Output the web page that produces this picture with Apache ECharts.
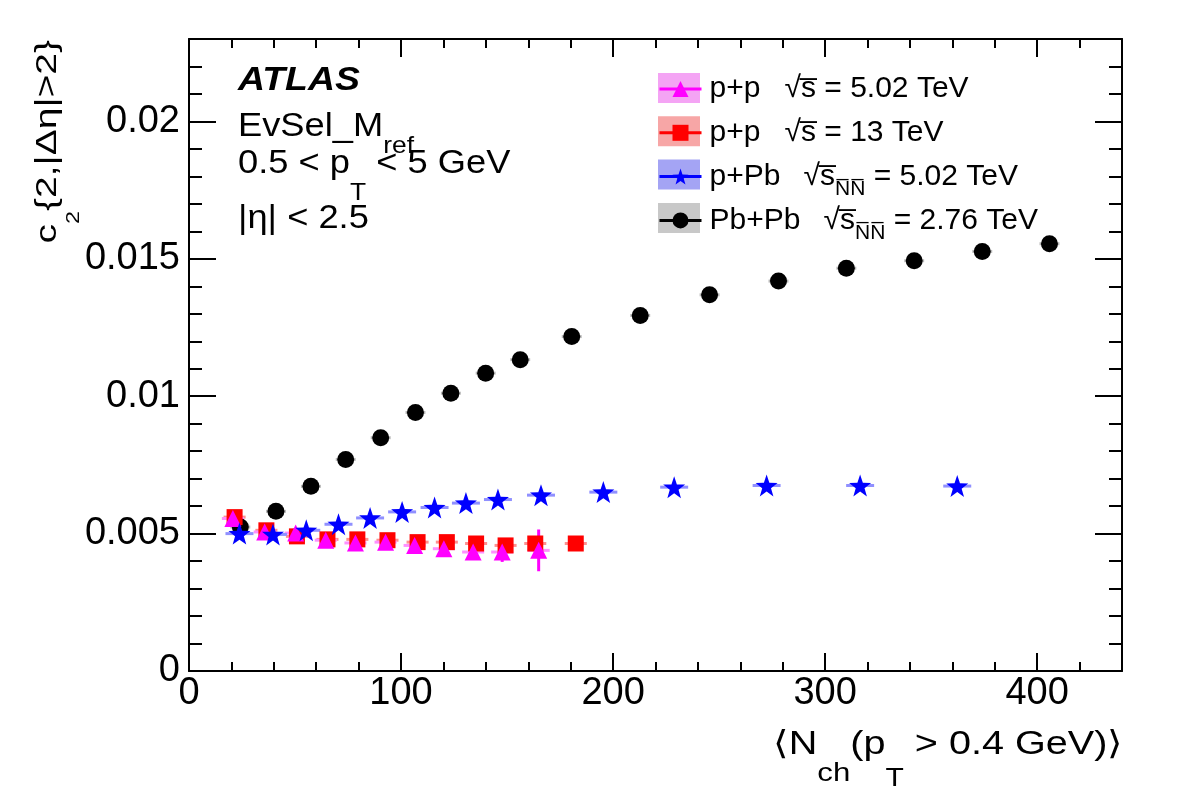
<!DOCTYPE html>
<html>
<head>
<meta charset="utf-8">
<title>ATLAS c2 vs Nch</title>
<script src="https://cdn.jsdelivr.net/npm/echarts@6.0.0/dist/echarts.min.js"></script>
<style>
  html, body { margin: 0; padding: 0; background: #fff; }
  #chart { width: 1182px; height: 800px; }
</style>
</head>
<body>
<div id="chart"></div>
<script>
const FONT = '"Liberation Sans", Arial, Helvetica, sans-serif';

// p+p, sqrt(s) = 5.02 TeV
const pp5X = [20.7, 35.7, 50.3, 64.5, 78.5, 92.7, 106.4, 120.2, 134.0, 147.7, 164.9];
const pp5Y = [0.00555, 0.00506, 0.00502, 0.00476, 0.00466, 0.00469, 0.00457, 0.00445, 0.00433, 0.00433, 0.00439];
const pp5YErr = [0.0001, 0.0001, 0.0001, 0.0001, 0.0001, 0.0001, 0.00012, 0.00015, 0.0002, 0.00036, 0.00076];

// p+p, sqrt(s) = 13 TeV
const pp13X = [21.5, 36.5, 50.9, 65.3, 79.4, 93.6, 107.8, 121.6, 135.4, 149.3, 163.3, 182.4];
const pp13Y = [0.00560, 0.00512, 0.00490, 0.00479, 0.00479, 0.00476, 0.00469, 0.00469, 0.00464, 0.00457, 0.00464, 0.00464];

// p+Pb, sqrt(sNN) = 5.02 TeV
const pPbX = [23.8, 39.6, 55.3, 70.5, 85.4, 100.5, 115.8, 130.6, 145.7, 166.0, 195.4, 228.8, 272.4, 316.5, 362.3];
const pPbY = [0.00500, 0.00497, 0.00512, 0.00534, 0.00557, 0.00579, 0.00595, 0.00611, 0.00624, 0.00640, 0.00651, 0.00669, 0.00675, 0.00675, 0.00673];

// Pb+Pb, sqrt(sNN) = 2.76 TeV
const PbPbX = [24.2, 41.0, 57.5, 73.9, 90.4, 106.8, 123.5, 139.9, 156.2, 180.5, 212.8, 245.5, 278.0, 310.0, 342.0, 374.1, 405.8];
const PbPbY = [0.00524, 0.00581, 0.00672, 0.00770, 0.00849, 0.00941, 0.01011, 0.01084, 0.01133, 0.01217, 0.01294, 0.01369, 0.01419, 0.01466, 0.01493, 0.01527, 0.01555];

// half width of the systematic boxes (in Nch)
const pp5XErr = 5.2;
const pp13XErr = 5.2;
const pPbXErr = 6.6;
const PbPbXErr = 4.7;

// axis ranges
const xMax = 440, xStep = 100;
const yMax = 0.023, yStep = 0.005;

const NAME_PP5 = 'p+p 5.02 TeV';
const NAME_PP13 = 'p+p 13 TeV';
const NAME_PPB = 'p+Pb 5.02 TeV';
const NAME_PBPB = 'Pb+Pb 2.76 TeV';

function zip(xs, ys, es) {
    return xs.map((x, i) => es ? [x, ys[i], es[i]] : [x, ys[i]]);
}

const starPath = 'path://M0,-10L2.35,-3.24L9.51,-3.09L3.8,1.24L5.88,8.09L0,4L-5.88,8.09L-3.8,1.24L-9.51,-3.09L-2.35,-3.24Z';

function markers(name, data, symbol, size, color) {
    return {
        type: 'line',
        name: name,
        data: data,
        symbol: symbol,
        symbolSize: size,
        showSymbol: true,
        color: color,
        itemStyle: { color: color, borderWidth: 0 },
        lineStyle: { opacity: 0 },
        emphasis: { disabled: true },
        z: 4
    };
}

function errorBars(name, data, xe, boxColor, barColor) {
    return {
        type: 'custom',
        name: name,
        data: data,
        silent: true,
        z: 3,
        renderItem: function (params, api) {
            let x = api.value(0), y = api.value(1), ye = api.value(2);
            let a = api.coord([x - xe, y]), b = api.coord([x + xe, y]);
            let children = [{
                type: 'line',
                shape: { x1: a[0], y1: a[1], x2: b[0], y2: b[1] },
                style: { stroke: boxColor, lineWidth: 3 }
            }];
            if (ye) {
                let c = api.coord([x, y - ye]), d = api.coord([x, y + ye]);
                children.push({
                    type: 'line',
                    shape: { x1: c[0], y1: c[1], x2: d[0], y2: d[1] },
                    style: { stroke: barColor, lineWidth: 3 }
                });
            }
            return { type: 'group', children: children };
        }
    };
}

const tickLine = { color: '#000', width: 2 };

function xAxisDef(pos, labels) {
    return {
        type: 'value', position: pos, min: 0, max: xMax, interval: xStep,
        axisLine: { onZero: false, lineStyle: tickLine },
        axisTick: { inside: true, length: 18, lineStyle: tickLine },
        minorTick: { show: true, splitNumber: 5, length: 9, lineStyle: tickLine },
        splitLine: { show: false },
        axisLabel: {
            show: labels, fontSize: 38, color: '#000', fontFamily: FONT, margin: 4,
            showMaxLabel: false
        }
    };
}

function yAxisDef(pos, labels) {
    return {
        type: 'value', position: pos, min: 0, max: yMax, interval: yStep,
        axisLine: { onZero: false, lineStyle: tickLine },
        axisTick: { inside: true, length: 27, lineStyle: tickLine },
        minorTick: { show: true, splitNumber: 5, length: 13, lineStyle: tickLine },
        splitLine: { show: false },
        axisLabel: {
            show: labels, fontSize: 38, color: '#000', fontFamily: FONT, margin: 9,
            showMaxLabel: false,
            formatter: v => v === 0 ? '0' : String(v)
        }
    };
}

// legend text, with sqrt(s) and subscripts; every row ends the same way so rows get equal height
const legendText = {};
legendText[NAME_PP5] = '{a1|p+p}{m|√s\u0305 = 5.02 TeV}{n| }';
legendText[NAME_PP13] = '{a1|p+p}{m|√s\u0305 = 13 TeV}{n| }';
legendText[NAME_PPB] = '{a3|p+Pb}{m|√s\u0305}{n|N\u0305N\u0305}{m| = 5.02 TeV}';
legendText[NAME_PBPB] = '{a4|Pb+Pb}{m|√s\u0305}{n|N\u0305N\u0305}{m| = 2.76 TeV}';

const legRich = {
    a1: { fontSize: 30, lineHeight: 30, width: 75, padding: [0, 0, 0, 3], color: '#000', fontFamily: FONT },
    a3: { fontSize: 30, lineHeight: 30, width: 94, padding: [0, 0, 0, 3], color: '#000', fontFamily: FONT },
    a4: { fontSize: 30, lineHeight: 30, width: 114, padding: [0, 0, 0, 3], color: '#000', fontFamily: FONT },
    m: { fontSize: 30, lineHeight: 30, color: '#000', fontFamily: FONT },
    n: { fontSize: 21, lineHeight: 2, height: 2, padding: [27, 0, 1, 0], color: '#000', fontFamily: FONT }
};

const legendNames = [NAME_PP5, NAME_PP13, NAME_PPB, NAME_PBPB];
const boxColors = ['#f4a4f4', '#f7a6a6', '#a4a4f4', '#c8c8c8'];

// ROOT style text blocks: subscripts dropped by fixed offsets inside an 80px line
function subStyle(size, drop) {
    let top = 35 + drop;
    return { fontSize: size, lineHeight: 10, height: 10, padding: [top, 0, 70 - top, 0], fill: '#000', fontFamily: FONT };
}

function label(x, y, text, size, rich, extra) {
    extra = extra || {};
    let el = {
        type: 'text', x: x, y: y, z: 10,
        style: Object.assign({
            text: text, fontSize: size, fontFamily: FONT, fill: '#000',
            lineHeight: 80, align: 'left', verticalAlign: 'middle', rich: rich || {}
        }, extra.style)
    };
    if (extra.rotation) el.rotation = extra.rotation;
    if (extra.scaleX) el.scaleX = extra.scaleX;
    return el;
}

const chart = echarts.init(document.getElementById('chart'), null, { renderer: 'canvas' });

const option = {
    animation: false,
    backgroundColor: '#fff',
    textStyle: { fontFamily: FONT, color: '#000' },
    grid: { left: 189, right: 60, top: 39, bottom: 129 },
    xAxis: [xAxisDef('bottom', true), xAxisDef('top', false)],
    yAxis: [yAxisDef('left', true), yAxisDef('right', false)],
    legend: [
        {
            orient: 'vertical', left: 658, top: 73, padding: 0, itemGap: 13.3,
            itemWidth: 42, itemHeight: 30, selectedMode: false, z: 4,
            data: legendNames.map((n, i) => ({ name: n, icon: 'rect', itemStyle: { color: boxColors[i], borderWidth: 0 } })),
            formatter: () => '',
            textStyle: { fontSize: 10 }
        },
        {
            orient: 'vertical', left: 658, top: 74, padding: 0, itemGap: 5.3,
            itemWidth: 42, itemHeight: 20, z: 5,
            data: legendNames,
            lineStyle: { width: 3, opacity: 1 },
            formatter: n => legendText[n],
            textStyle: { fontSize: 30, lineHeight: 30, color: '#000', fontFamily: FONT, rich: legRich }
        }
    ],
    graphic: [
        label(238, 80.8, 'ATLAS', 34, null, { scaleX: 1.1, style: { fontWeight: 'bold', fontStyle: 'italic' } }),
        label(238, 126.8, 'EvSel_M{s|ref}', 33, { s: subStyle(24, 19.9) }, { scaleX: 1.1 }),
        label(238, 163.5, '0.5 < p{s|T} < 5 GeV', 33, { s: subStyle(24, 29.9) }, { scaleX: 1.1 }),
        label(238, 218.5, '|η| < 2.5', 33, null, { scaleX: 1.1 }),
        label(1123, 745.1, '⟨N{c|ch}(p{t|T} > 0.4 GeV)⟩', 33,
            { c: subStyle(26, 29.1), t: subStyle(25, 34.5) }, { scaleX: 1.2, style: { align: 'right' } }),
        label(47.5, 40, 'c{s|2}{2,|Δη|>2}', 30, { s: subStyle(18, 26.2) },
            { rotation: Math.PI / 2, scaleX: 1.3, style: { align: 'right' } })
    ],
    series: [
        errorBars('PbPb sys', zip(PbPbX, PbPbY), PbPbXErr, '#b8b8b8', '#000'),
        errorBars('pp13 sys', zip(pp13X, pp13Y), pp13XErr, '#ff9090', '#ff0000'),
        errorBars('pp5 sys', zip(pp5X, pp5Y, pp5YErr), pp5XErr, '#ff90ff', '#ff00ff'),
        errorBars('pPb sys', zip(pPbX, pPbY), pPbXErr, '#9090ff', '#0000ff'),
        markers(NAME_PBPB, zip(PbPbX, PbPbY), 'circle', 17, '#000000'),
        markers(NAME_PP13, zip(pp13X, pp13Y), 'rect', 16, '#ff0000'),
        markers(NAME_PP5, zip(pp5X, pp5Y), 'triangle', [17, 17], '#ff00ff'),
        markers(NAME_PPB, zip(pPbX, pPbY), starPath, 22, '#0000ff')
    ]
};

chart.setOption(option);
</script>
</body>
</html>
